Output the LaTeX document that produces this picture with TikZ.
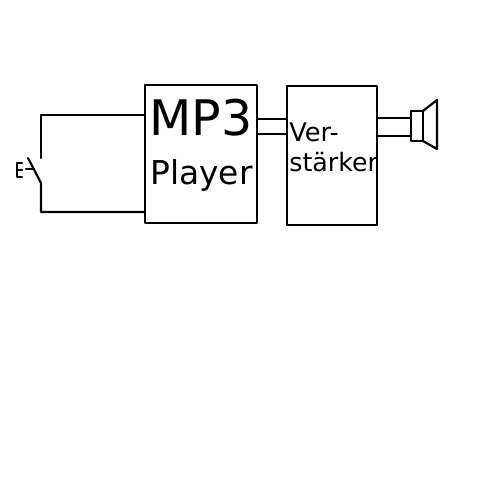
\documentclass[tikz,border=0pt]{standalone}
\usepackage{fontspec}
\setmainfont{DejaVu Sans}
\usetikzlibrary{positioning}
\begin{document}
\begin{tikzpicture}[
  x=0.02cm, y=-0.02cm,
  wire/.style={line width=1.25pt, line join=round, line cap=round},
  box/.style={draw, wire, minimum width=0pt, inner sep=0pt, outer sep=0pt},
  label/.style={inner sep=0pt, anchor=base west}]
  \useasboundingbox (0,0) rectangle (500,500);
  % boxes
  \node[box, minimum width=2.24cm, minimum height=2.76cm] (mp3) at (201,154) {};
  \node[box, minimum width=1.80cm, minimum height=2.78cm] (amp) at (332,155.5) {};
  \node[box, minimum width=0.24cm, minimum height=0.60cm] (spk) at (417,126) {};
  % texts
  \node[label, font=\fontsize{27.9pt}{30pt}\selectfont] (mp3text) at (149,135) {MP3};
  \node[label, font=\fontsize{18.7pt}{20pt}\selectfont] (playertext) at (150,184) {Player};
  \node[label, font=\fontsize{14.6pt}{16pt}\selectfont] (vertext) at (289,141) {Ver-};
  \node[label, font=\fontsize{14.4pt}{16pt}\selectfont] (staerkertext) at (289,171) {stärker};
  % speaker cone
  \draw[wire] (spk.north east) -- (437,100) -- (437,149) -- (spk.south east);
  % connections
  \draw[wire] (mp3.east |- 0,119) -- (amp.west |- 0,119);
  \draw[wire] (mp3.east |- 0,134) -- (amp.west |- 0,134);
  \draw[wire] (amp.east |- 0,118) -- (spk.west |- 0,118);
  \draw[wire] (amp.east |- 0,136) -- (spk.west |- 0,136);
  % switch
  \coordinate (top) at (41,158);
  \coordinate (bot) at (41,183);
  \draw[wire] (mp3.west |- 0,115) -- (41,115) -- (top);
  \draw[wire] (mp3.west |- 0,212) -- (41,212) -- (bot) -- (28,158);
  \draw[wire] (26,169) -- (34,169);
  \draw[wire] (22,163) -- (17,163) -- (17,177) -- (22,177);
  \draw[wire] (17,170) -- (22,170);
\end{tikzpicture}
\end{document}
